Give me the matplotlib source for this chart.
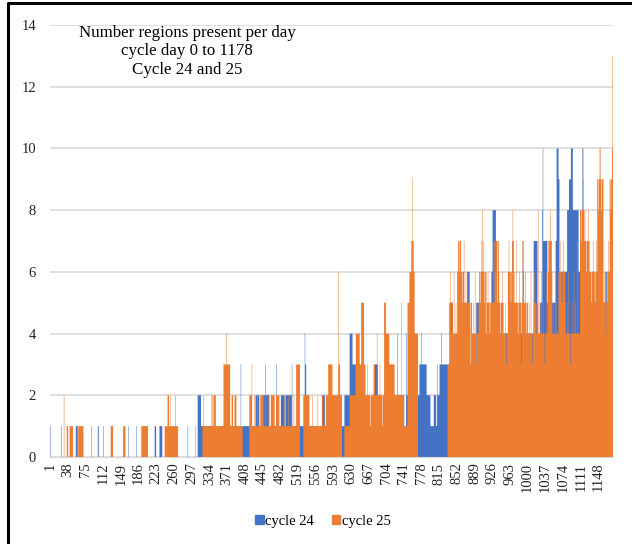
import numpy as np
import matplotlib
matplotlib.use("Agg")
import matplotlib.pyplot as plt
from matplotlib.lines import Line2D

# daily counts, run-length coded: "v" = one day of value v, "vxn" = n days of value v
cycle24_runs = (
    "1 0x23 1 0x29 1x4 0x28 1 0x13 1x2 0x9 1 0x52 1 0x15 1 0x38 1x3 0x7 1x6 "
    "0x53 1 0x20 2x7 1x14 "
    "1x69 3 1x30 2x8 1x8 2x4 3 2x8 1x14 3 1x9 2x8 1x2 2x13 3 1x26 4 3x2 1x33 "
    "2x6 1x41 2x11 4x6 3x7 1x20 2 1x17 3x8 1x41 4 2x13 1x4 4 2x27 3x4 4 3x10 "
    "2x8 1x7 2x5 1x2 3 2x4 3x4 4 3x16 5x7 3x14 5x11 3x5 6x5 3x14 5x7 3x25 6x2 "
    "8x7 4x25 3x4 5x5 7x3 4x19 7 4x22 7x8 4x5 5x5 8 10 7x8 5x18 7x2 10x4 9x2 "
    "6x16 8x4 9x4 10x4 8x12 6x8 10x2 6x8 7x2 5x9 6x2 5x25 6x3 4x13"
)
cycle25_runs = (
    "0x29 2 0x5 1x3 0x3 1x7 0x11 1x11 0x57 1x5 0x21 1x5 0x33 1x14 0x35 1x6 2x3 "
    "1x2 2 1x10 2 1x5 0x36 1 0x14 1x2 2 1x16 2x2 1x2 2x5 1x16 3x6 4 3x7 1x3 2x3 "
    "1x3 2x4 1x13 0x14 2x5 3 1x5 2 1x5 2 1x5 2x6 1x4 2 1x5 2 1x5 2x8 1x3 2x7 "
    "1x11 2x2 1x5 2 1x6 2 1x4 2 1x4 3x8 0x7 "
    "2x13 1x6 2 1x10 2 1x8 2x2 1x6 2x5 3x9 2x12 6 3x3 2x4 0x5 1x11 2x13 4x8 3x3 "
    "5x6 3x3 2x4 3 2x5 1 2x6 3x3 2x4 4 2x5 3 2x4 1 2x3 "
    "5x4 4x7 3x11 2x14 5 2x5 1x7 5x4 6x4 7x2 9 7x2 6x2 4x7 0x62 "
    "3x4 5 6 5x2 4 5x2 4x2 6 4x3 5 4x2 6 6 7x2 6 7x3 6x2 5 6x3 7 "
    "5x3 6 5x2 4 5x3 6 5x2 3 5x2 4x2 5 4x3 6 4x2 3 4x3 5 4 6x2 5 6x2 7 6 8 7 "
    "6x2 5 6x2 4 6 5x2 6 5x3 4 5x2 6 5x3 7 5x2 7x2 6 7x3 5 7x2 6 "
    "5x2 4 5x3 6 5x2 4 4x2 5 4x2 3 4x2 6x2 7 6x3 5 6x2 7 8 "
    "5x3 6 5x2 7 5x3 4 5x2 6 5x3 3 5x2 7 6 7 5x2 6 5x2 4 5x2 "
    "4x2 5 4x3 6 4x2 3 4x2 5x2 6 5x3 4 5x2 8 "
    "4x3 5 4x2 6 4x3 5 4x2 3 4x3 6 4 7x2 6 7x3 8 7x2 6 "
    "4x2 5 4x3 6 4x2 5 4x3 6 6x2 7 6x3 5 6x2 7 6x3 5 "
    "4x3 5 4x2 6 4x3 3 4x2 5 4x3 6 4x2 5 4x3 7 4x5 "
    "8x2 7 8x3 9 8x2 7 8 7x2 6 7x3 8 7x2 6 6x3 5 6x2 7 6x3 5 6x2 7 6 "
    "9x2 8 9x2 10 10 9x2 8 9x3 5x2 6 5x2 4 5x2 6x2 7 6x2 9x2 8 9x2 10 13"
)
n_days = 1178
tick_days = list(range(1, n_days + 1, 37))
title = "Number regions present per day\ncycle day 0 to 1178\nCycle 24 and 25"


def expand(runs):
    vals = []
    for tok in runs.split():
        if "x" in tok:
            v, n = tok.split("x")
            vals += [int(v)] * int(n)
        else:
            vals.append(int(tok))
    assert len(vals) == n_days, len(vals)
    return np.array(vals)


c24 = expand(cycle24_runs)
c25 = expand(cycle25_runs)
edges = np.arange(n_days + 1) + 0.5

plt.rcParams['font.family'] = ['Liberation Serif', 'DejaVu Serif']

fig = plt.figure(figsize=(6.32, 5.44), dpi=100)
ax = fig.add_axes([50 / 632, 87 / 544, 563 / 632, 432 / 544])

ax.stairs(c24, edges, fill=True, color="#4472C4", label="cycle 24", zorder=2)
ax.stairs(c25, edges, fill=True, color="#ED7D31", label="cycle 25", zorder=3)

ax.set_xlim(0.5, n_days + 0.5)
ax.set_ylim(0, 14)
ax.set_yticks(range(0, 15, 2))
ax.set_xticks(tick_days)
ax.set_xticklabels([str(d) for d in tick_days], rotation=90)
ax.tick_params(axis="both", length=0, labelsize=10.5, colors="#222222")
ax.tick_params(axis="y", pad=10)
ax.tick_params(axis="x", pad=4)
ax.grid(axis="y", color="#d9d9d9", linewidth=1.2, zorder=0)
ax.set_axisbelow(True)
for s in ["top", "right", "left"]:
    ax.spines[s].set_visible(False)
ax.spines["bottom"].set_color("#d9d9d9")

fig.text(187 / 632, 1 - 25 / 544, title, ha="center", va="top",
         fontsize=12.2, linespacing=1.2)

h1 = plt.Rectangle((0, 0), 1, 1, color="#4472C4")
h2 = plt.Rectangle((0, 0), 1, 1, color="#ED7D31")
fig.legend([h1, h2], ["cycle 24", "cycle 25"], loc="center",
           bbox_to_anchor=(323 / 632, 23 / 544), ncol=2, frameon=False,
           fontsize=10.5, handlelength=0.6, handleheight=0.6,
           handletextpad=0.1, columnspacing=1.2)

# dark frame on the left and top edges of the image
fig.lines.append(Line2D([8 / 632, 8 / 632, 1], [0, 1 - 3 / 544, 1 - 3 / 544],
                        transform=fig.transFigure, color="black",
                        linewidth=2.2))

fig.savefig("out.png", dpi=100)
